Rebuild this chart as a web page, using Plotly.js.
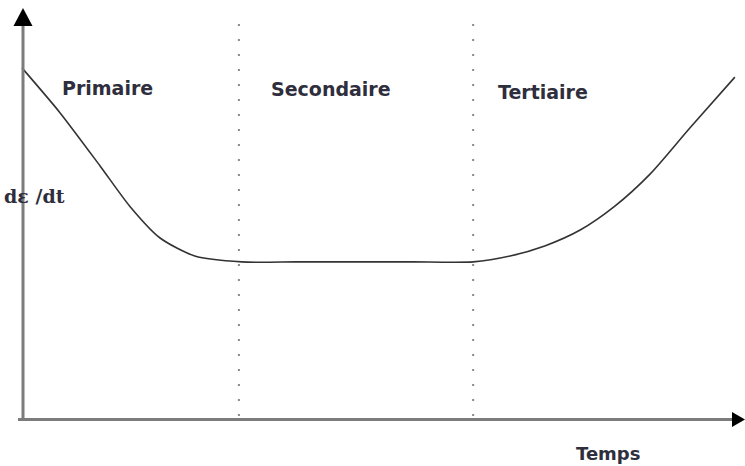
<!DOCTYPE html>
<html><head><meta charset="utf-8">
<script src="https://cdn.plot.ly/plotly-3.0.1.min.js"></script>
<style>html,body{margin:0;padding:0;background:#fff;overflow:hidden}</style>
</head><body><div id="chart" style="width:745px;height:466px"></div>
<script>
// Creep curve: strain rate vs time
const time = [0, 0.53, 1.08, 1.49, 1.91, 2.39, 3.04, 3.8, 4.6, 5.4, 6.24, 6.75, 7.23, 7.72, 8.20, 8.69, 9.24, 9.86];
const strainRate = [8.38, 7.30, 6.04, 5.08, 4.32, 3.89, 3.75, 3.75, 3.75, 3.75, 3.75, 3.89, 4.13, 4.51, 5.08, 5.85, 6.95, 8.16];
const phaseBoundaries = [3.0, 6.24];
const phaseLabels = ['Primaire', 'Secondaire', 'Tertiaire'];
const xAxisLabel = 'Temps';
const yAxisLabel = 'dε /dt';

const W = 745, H = 466;
const px = v => v / W;
const py = v => 1 - v / H;
const axisColor = '#7c7c7c';
const textColor = '#2e2e3c';

const shapes = [];
// vertical dotted phase boundaries
phaseBoundaries.forEach(b => shapes.push({
  type: 'line', xref: 'x', yref: 'paper', x0: b, x1: b, y0: py(416), y1: py(14),
  line: {color: '#8a8a8a', width: 2, dash: '2px,13px'}
}));
// y axis
shapes.push({type: 'line', xref: 'paper', yref: 'paper', x0: px(23), x1: px(23), y0: py(420), y1: py(24),
  line: {color: axisColor, width: 3}});
shapes.push({type: 'path', xref: 'paper', yref: 'paper',
  path: `M ${px(23)} ${py(8)} L ${px(13.5)} ${py(26)} L ${px(32.5)} ${py(26)} Z`,
  fillcolor: '#000', line: {color: '#000', width: 0}});
// x axis
shapes.push({type: 'line', xref: 'paper', yref: 'paper', x0: px(18), x1: px(734), y0: py(419.5), y1: py(419.5),
  line: {color: axisColor, width: 3}});
shapes.push({type: 'path', xref: 'paper', yref: 'paper',
  path: `M ${px(745)} ${py(419.5)} L ${px(732)} ${py(412)} L ${px(732)} ${py(427)} Z`,
  fillcolor: '#000', line: {color: '#000', width: 0}});

const labelFont = {family: 'DejaVu Sans', size: 19, color: textColor, weight: 'bold'};
const labelPos = [[107.5, 88], [331, 89], [542.5, 92]];
const annotations = phaseLabels.map((t, i) => ({
  text: t, xref: 'paper', yref: 'paper', x: px(labelPos[i][0]), y: py(labelPos[i][1]),
  xanchor: 'center', yanchor: 'middle', showarrow: false, font: labelFont
}));
annotations.push({text: xAxisLabel, xref: 'paper', yref: 'paper', x: px(608), y: py(453),
  xanchor: 'center', yanchor: 'middle', showarrow: false,
  font: {family: 'DejaVu Sans', size: 18, color: textColor, weight: 'bold'}});
annotations.push({text: yAxisLabel, xref: 'paper', yref: 'paper', x: px(34), y: py(196),
  xanchor: 'center', yanchor: 'middle', showarrow: false,
  font: {family: 'DejaVu Serif', size: 19, color: textColor, weight: 'bold'}});

const data = [{
  x: time, y: strainRate, type: 'scatter', mode: 'lines',
  line: {color: '#333333', width: 1.6, shape: 'spline', smoothing: 0.7},
  hoverinfo: 'skip'
}];

const layout = {
  width: W, height: H,
  margin: {l: 0, r: 0, t: 0, b: 0, pad: 0},
  paper_bgcolor: '#ffffff', plot_bgcolor: '#ffffff',
  showlegend: false,
  xaxis: {range: [-0.3043, 10], visible: false, fixedrange: true},
  yaxis: {range: [-1.1217, 10], visible: false, fixedrange: true},
  shapes: shapes,
  annotations: annotations
};

Plotly.newPlot('chart', data, layout, {staticPlot: true, displayModeBar: false});
</script>
</body></html>
